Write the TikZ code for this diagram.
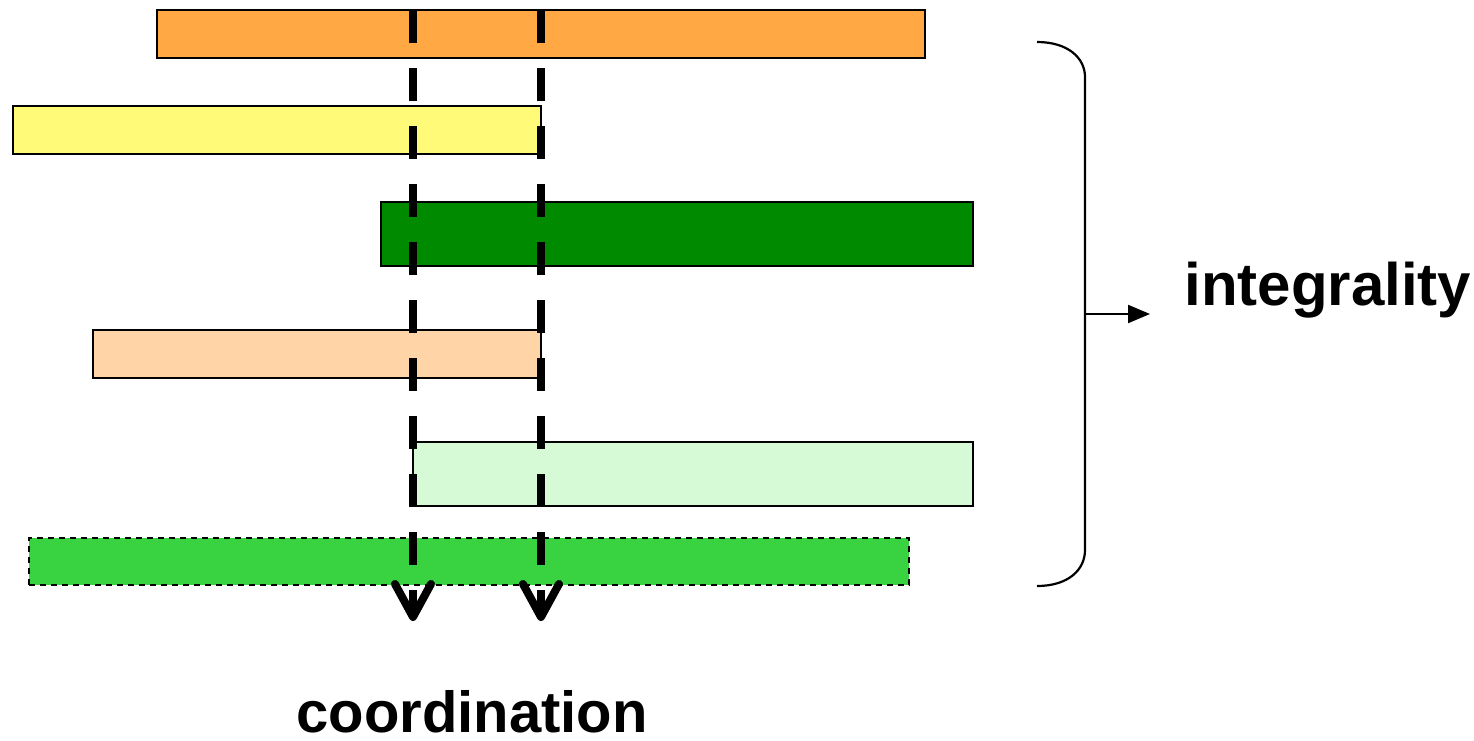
\documentclass[tikz,border=0pt]{standalone}
\usepackage{fontspec}
\setmainfont{Liberation Sans}
\usetikzlibrary{arrows.meta,calc}
\definecolor{cOrange}{RGB}{255,168,68}
\definecolor{cYellow}{RGB}{255,250,120}
\definecolor{cDark}{RGB}{0,138,0}
\definecolor{cPeach}{RGB}{255,213,168}
\definecolor{cLight}{RGB}{213,250,213}
\definecolor{cGreen}{RGB}{57,210,65}
\tikzset{
  bar/.style={draw=black, line width=0.75pt, inner sep=0pt, outer sep=0pt, rectangle},
  guide/.style={line width=4pt, dash pattern=on 16.5pt off 12.5pt},
  chev/.style={line width=4pt, line cap=round, line join=round},
  lbl/.style={inner sep=0pt, font=\fontsize{30pt}{36pt}\selectfont\bfseries},
}
\begin{document}
\begin{tikzpicture}[x=0.5pt,y=-0.5pt]
\useasboundingbox (0,0) rectangle (1474,740);
% bars
\node[bar, fill=cOrange, minimum width=384pt, minimum height=24pt] (b1) at (541,34) {};
\node[bar, fill=cYellow, minimum width=264pt, minimum height=24pt] (b2) at (277,130) {};
\node[bar, fill=cDark, minimum width=296pt, minimum height=32pt] (b3) at (677,234) {};
\node[bar, fill=cPeach, minimum width=224pt, minimum height=24pt] (b4) at (317,354) {};
\node[bar, fill=cLight, minimum width=280pt, minimum height=32pt] (b5) at (693,474) {};
\node[bar, fill=cGreen, dash pattern=on 3pt off 2.5pt, minimum width=440pt, minimum height=23.5pt] (b6) at (469,561.5) {};
% dashed guides
\coordinate (g1t) at (413,10);
\coordinate (g1b) at (413,617);
\coordinate (g2t) at (541,10);
\coordinate (g2b) at (541,617);
\draw[guide] (g1t) -- (g1b);
\draw[guide] (g2t) -- (g2b);
\draw[chev] ([shift={(-18,-33)}]g1b) -- (g1b) -- ([shift={(18,-33)}]g1b);
\draw[chev] ([shift={(-18,-33)}]g2b) -- (g2b) -- ([shift={(18,-33)}]g2b);
% brace
\coordinate (bt) at (1037,42);
\coordinate (bb) at (1037,586);
\coordinate (bm) at (1085,314);
\draw[line width=1.1pt] (bt) .. controls (1068,42) and (1085,58) .. (1085,77) -- (1085,550) .. controls (1085,570) and (1068,586) .. (bb);
\node[lbl, anchor=base west] (integ) at (1184,305) {integrality};
\coordinate (am) at (1150,314);
\draw[line width=1.1pt, -{Triangle[length=11pt,width=9pt]}] (bm) -- (am);
\node[lbl, anchor=base west, font=\fontsize{29pt}{35pt}\selectfont\bfseries] (coord) at (296,732) {coordination};
\end{tikzpicture}
\end{document}
